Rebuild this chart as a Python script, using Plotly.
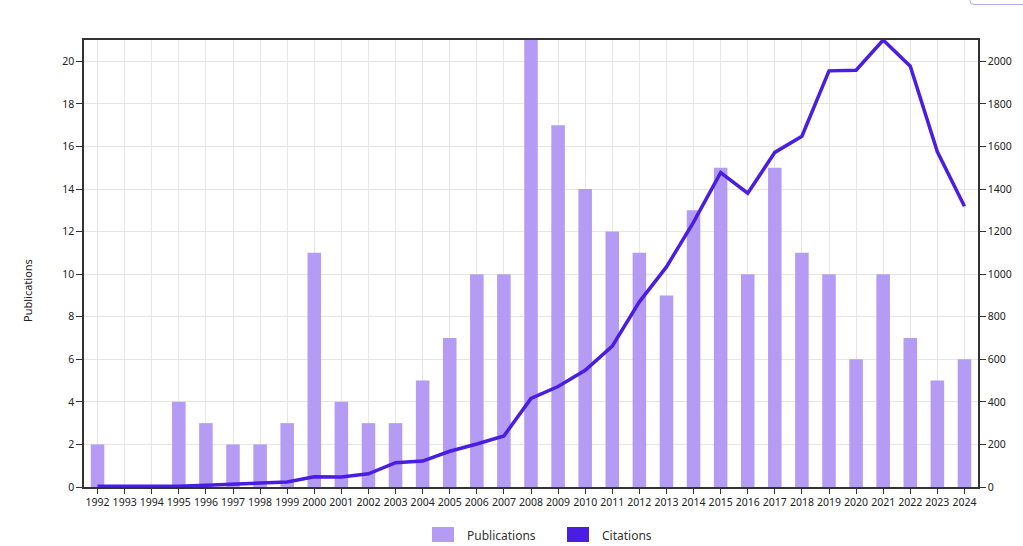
import plotly.graph_objects as go

years = [str(y) for y in range(1992, 2025)]
publications = [2, 0, 0, 4, 3, 2, 2, 3, 11, 4, 3, 3, 5, 7, 10, 10, 21, 17, 14, 12,
                11, 9, 13, 15, 10, 15, 11, 10, 6, 10, 7, 5, 6]
citations = [3, 3, 3, 4, 8, 14, 18, 24, 48, 47, 62, 114, 122, 168, 202, 240, 416, 472,
             548, 662, 870, 1034, 1244, 1477, 1380, 1572, 1648, 1955, 1958, 2100, 1977,
             1575, 1319]

left_ticks = list(range(0, 21, 2))
right_ticks = list(range(0, 2001, 200))

BAR_COLOR = "#b49cf5"
LINE_COLOR = "#4a1de3"
AXIS_COLOR = "#333333"
GRID_COLOR = "#e6e6e6"
FONT = "Noto Sans"

fig = go.Figure()
fig.add_trace(go.Bar(x=years, y=publications, name="Publications",
                     marker=dict(color=BAR_COLOR, line=dict(width=0)),
                     width=0.5, yaxis="y", showlegend=False))
fig.add_trace(go.Scatter(x=years, y=citations, name="Citations", mode="lines",
                         line=dict(color=LINE_COLOR, width=3.5), yaxis="y2",
                         showlegend=False))

W, H = 1023, 546
ml, mr, mt, mb = 84, 45, 40, 59
pw, ph = W - ml - mr, H - mt - mb


def px(x):
    return (x - ml) / pw


def py(y):
    return (H - mb - y) / ph


shapes = []
annotations = []
legend_items = [("Publications", BAR_COLOR, 432), ("Citations", LINE_COLOR, 567)]
for name, col, x0 in legend_items:
    shapes.append(dict(type="rect", xref="paper", yref="paper",
                       x0=px(x0), x1=px(x0 + 22), y0=py(542), y1=py(527),
                       fillcolor=col, line=dict(width=0)))
    annotations.append(dict(text=name, xref="paper", yref="paper",
                            x=px(x0 + 33), y=py(535), xanchor="left", yanchor="middle",
                            showarrow=False, font=dict(family=FONT, size=12, color="#333")))

# y-axis title
annotations.append(dict(text="Publications", xref="paper", yref="paper",
                        x=px(27), y=py(290), xanchor="center", yanchor="middle",
                        textangle=-90, showarrow=False,
                        font=dict(family=FONT, size=11, color="#222")))

# partial rounded button outline at top-right
shapes.append(dict(type="path", xref="paper", yref="paper",
                   path=f"M {px(970)},{py(-5)} L {px(970)},{py(1)} Q {px(970)},{py(4.5)} {px(974)},{py(4.5)} L {px(1030)},{py(4.5)}",
                   line=dict(color="#b6a8ee", width=1)))

fig.update_layout(
    width=W, height=H,
    margin=dict(l=ml, r=mr, t=mt, b=mb, autoexpand=False),
    paper_bgcolor="white", plot_bgcolor="white",
    font=dict(family=FONT, size=11, color="#222"),
    xaxis=dict(type="category", showgrid=True, gridcolor=GRID_COLOR, gridwidth=1,
               showline=True, linecolor=AXIS_COLOR, linewidth=1.5, mirror=True,
               ticks="outside", ticklen=5, tickcolor=AXIS_COLOR, tickangle=0,
               automargin=False,
               tickfont=dict(family=FONT, size=10.5, color="#222")),
    yaxis=dict(range=[0, 21], tickvals=left_ticks, showgrid=True, gridcolor=GRID_COLOR,
               showline=True, linecolor=AXIS_COLOR, linewidth=1.5, zeroline=False,
               ticks="outside", ticklen=6, tickcolor=AXIS_COLOR, automargin=False,
               tickfont=dict(family=FONT, size=10.5, color="#222")),
    yaxis2=dict(range=[0, 2100], tickvals=right_ticks, overlaying="y", side="right",
                showgrid=False, showline=True, linecolor=AXIS_COLOR, linewidth=1.5,
                zeroline=False, ticks="outside", ticklen=6, tickcolor=AXIS_COLOR,
                automargin=False,
                tickfont=dict(family=FONT, size=10.5, color="#222")),
    shapes=shapes, annotations=annotations,
    showlegend=False,
)

fig.write_html("out.html", config={"displayModeBar": False},
               post_script="document.body.style.margin='0';document.body.style.overflow='hidden';")
